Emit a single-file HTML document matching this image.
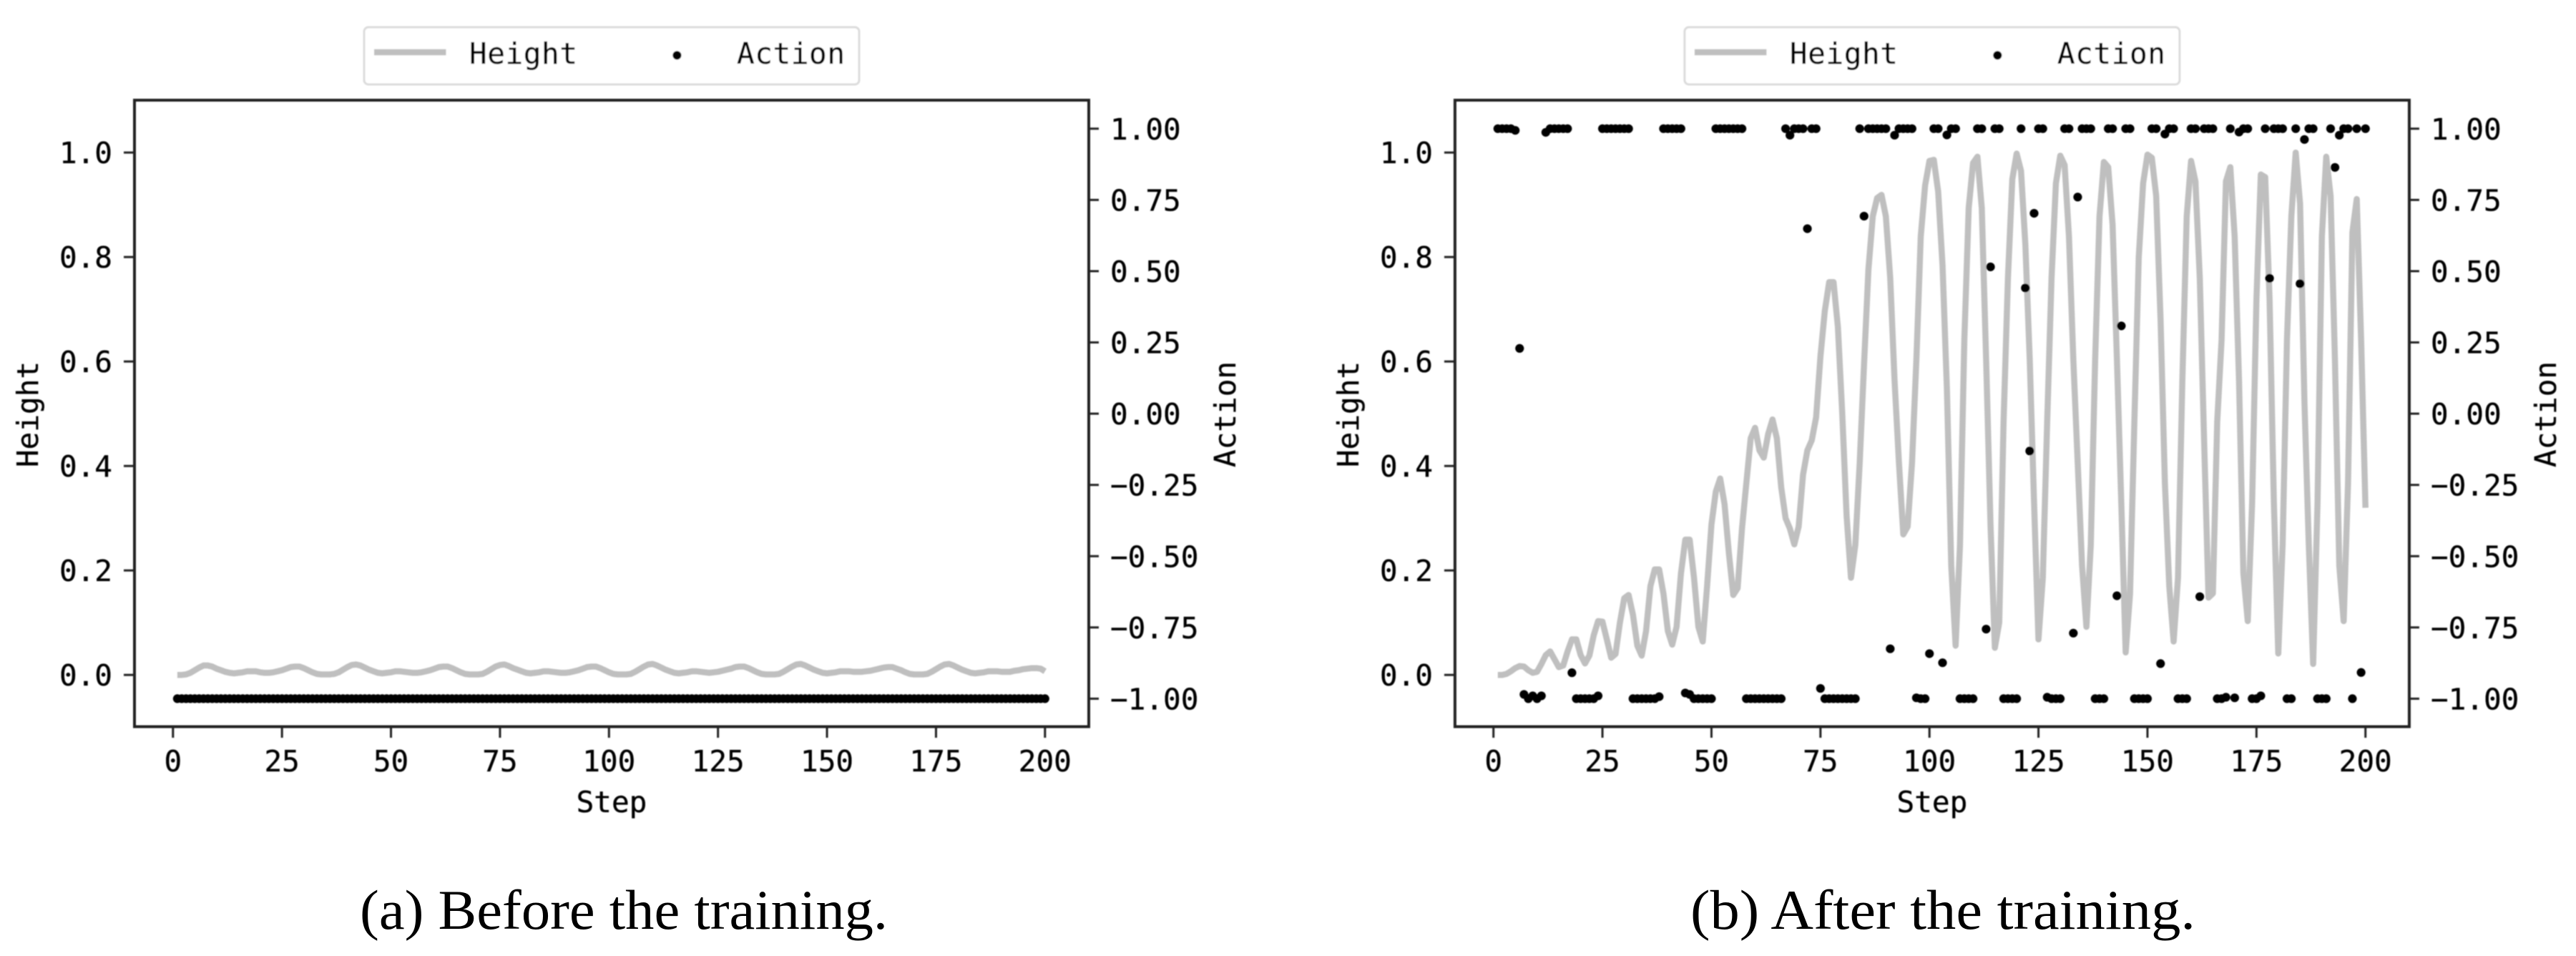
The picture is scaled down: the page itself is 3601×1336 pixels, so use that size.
<!DOCTYPE html>
<html lang="en">
<head>
<meta charset="utf-8">
<title>Height and Action before and after training</title>
<style>
html,body{margin:0;padding:0;background:#fff;}
svg{display:block;}
.mono{font-family:"DejaVu Sans Mono","Liberation Mono",monospace;font-size:41px;fill:#000;stroke:#000;stroke-width:0.35px;}
.cap{font-family:"Liberation Serif",serif;font-size:78px;fill:#000;}
</style>
</head>
<body>
<svg id="figure" xmlns="http://www.w3.org/2000/svg" width="3601" height="1336" viewBox="0 0 3601 1336">
  <defs>
    <filter id="soft" x="-2%" y="-2%" width="104%" height="104%"><feGaussianBlur stdDeviation="0.7"/></filter>
  </defs>
  <rect x="0" y="0" width="3601" height="1336" fill="#fff"/>
  <g id="panel-a" filter="url(#soft)"></g>
  <g id="panel-b" filter="url(#soft)"></g>
  <text class="cap" x="503" y="1298" textLength="738" lengthAdjust="spacingAndGlyphs">(a) Before the training.</text>
  <text class="cap" x="2363" y="1298" textLength="706" lengthAdjust="spacingAndGlyphs">(b) After the training.</text>
</svg>
<script>
const xTicks = [0, 25, 50, 75, 100, 125, 150, 175, 200];
const xTickLabels = ['0', '25', '50', '75', '100', '125', '150', '175', '200'];
const heightTicks = [0, 0.2, 0.4, 0.6, 0.8, 1.0];
const heightTickLabels = ['0.0', '0.2', '0.4', '0.6', '0.8', '1.0'];
const actionTicks = [-1, -0.75, -0.5, -0.25, 0, 0.25, 0.5, 0.75, 1];
const actionTickLabels = ['\u22121.00', '\u22120.75', '\u22120.50', '\u22120.25', '0.00', '0.25', '0.50', '0.75', '1.00'];

const beforeHeight = [
  0,0,.001,.004,.009,.014,.018,.018,.016,.012,.009,.006,.004,.003,.004,.005,.007,.007,.007,.005,.004,.004,.005,.007,.009,.012,.015,.016,.016,.013,.009,.005,.002,.001,
  .001,.001,.002,.005,.010,.015,.019,.020,.018,.014,.010,.007,.004,.003,.004,.005,.007,.007,.006,.005,.004,.004,.005,.007,.009,.012,.015,.016,.016,.013,.009,.005,.002,.001,
  .001,.001,.002,.006,.011,.016,.019,.020,.017,.013,.010,.007,.004,.003,.004,.005,.007,.007,.006,.005,.004,.004,.005,.007,.009,.012,.015,.016,.016,.013,.009,.005,.002,.001,
  .001,.001,.002,.006,.011,.016,.020,.021,.018,.014,.010,.007,.004,.003,.004,.005,.007,.007,.006,.005,.004,.005,.006,.008,.010,.012,.015,.016,.016,.013,.009,.005,.002,.001,
  .001,.001,.002,.006,.011,.016,.020,.021,.018,.014,.010,.007,.004,.003,.004,.005,.007,.007,.007,.006,.006,.006,.007,.008,.010,.012,.014,.015,.015,.012,.009,.005,.002,.001,
  .001,.001,.002,.006,.011,.016,.020,.021,.018,.014,.010,.007,.004,.003,.004,.005,.007,.007,.007,.006,.006,.006,.008,.009,.011,.012,.013,.013,.012,.007
];
const beforeAction = [
  -1,-1,-1,-1,-1,-1,-1,-1,-1,-1,-1,-1,-1,-1,-1,-1,-1,-1,-1,-1,-1,-1,-1,-1,-1,-1,-1,-1,-1,-1,-1,-1,-1,-1,-1,-1,-1,-1,-1,-1,
  -1,-1,-1,-1,-1,-1,-1,-1,-1,-1,-1,-1,-1,-1,-1,-1,-1,-1,-1,-1,-1,-1,-1,-1,-1,-1,-1,-1,-1,-1,-1,-1,-1,-1,-1,-1,-1,-1,-1,-1,
  -1,-1,-1,-1,-1,-1,-1,-1,-1,-1,-1,-1,-1,-1,-1,-1,-1,-1,-1,-1,-1,-1,-1,-1,-1,-1,-1,-1,-1,-1,-1,-1,-1,-1,-1,-1,-1,-1,-1,-1,
  -1,-1,-1,-1,-1,-1,-1,-1,-1,-1,-1,-1,-1,-1,-1,-1,-1,-1,-1,-1,-1,-1,-1,-1,-1,-1,-1,-1,-1,-1,-1,-1,-1,-1,-1,-1,-1,-1,-1,-1,
  -1,-1,-1,-1,-1,-1,-1,-1,-1,-1,-1,-1,-1,-1,-1,-1,-1,-1,-1,-1,-1,-1,-1,-1,-1,-1,-1,-1,-1,-1,-1,-1,-1,-1,-1,-1,-1,-1,-1,-1
];
const afterHeight = [
  0,0,.002,.007,.013,.017,.016,.009,.004,.006,
  .021,.038,.045,.03,.015,.018,.045,.068,.068,.038,
  .022,.037,.076,.103,.102,.068,.033,.04,.1,.147,
  .153,.115,.056,.037,.084,.17,.202,.202,.155,.084,
  .058,.092,.194,.259,.259,.186,.092,.064,.17,.288,
  .351,.376,.327,.233,.153,.166,.28,.367,.453,.473,
  .43,.416,.461,.489,.453,.359,.3,.28,.25,.284,
  .383,.43,.449,.493,.61,.697,.752,.752,.666,.5,
  .304,.186,.249,.406,.595,.776,.878,.913,.919,.878,
  .76,.563,.406,.269,.284,.406,.603,.839,.937,.984,
  .986,.925,.784,.548,.209,.056,.249,.642,.894,.98,
  .992,.894,.603,.288,.052,.1,.485,.76,.949,.998,
  .965,.823,.603,.328,.068,.186,.485,.76,.941,.994,
  .976,.839,.603,.406,.209,.092,.249,.603,.878,.982,
  .972,.862,.603,.328,.043,.155,.485,.799,.941,.996,
  .99,.917,.681,.367,.17,.064,.186,.563,.878,.984,
  .945,.76,.446,.148,.156,.485,.642,.945,.972,.839,
  .563,.194,.103,.328,.721,.958,.953,.721,.328,.041,
  .249,.642,.878,1,.902,.524,.249,.021,.328,.839,
  .992,.917,.603,.209,.103,.367,.847,.911,.642,.32
];
const afterAction = [
  1,1,1,1,.994,.229,-.985,-1,-.99,-1,
  -.99,.987,1,1,1,1,1,-.909,-1,-1,
  -1,-1,-1,-.99,1,1,1,1,1,1,
  1,-1,-1,-1,-1,-1,-1,-.993,1,1,
  1,1,1,-.98,-.985,-1,-1,-1,-1,-1,
  1,1,1,1,1,1,1,-1,-1,-1,
  -1,-1,-1,-1,-1,-1,1,.977,1,1,
  1,.649,1,1,-.964,-1,-1,-1,-1,-1,
  -1,-1,-1,1,.693,1,1,1,1,1,
  -.825,.977,1,1,1,1,-.997,-1,-1,-.842,
  1,1,-.874,.978,1,1,-1,-1,-1,-1,
  1,1,-.756,.515,1,1,-1,-1,-1,-1,
  1,.441,-.131,.703,1,1,-.995,-1,-1,-1,
  1,1,-.77,.76,1,1,1,-1,-1,-1,
  1,1,-.639,.308,1,1,-1,-1,-1,-1,
  1,1,-.877,.981,1,1,-1,-1,-1,1,
  1,-.642,1,1,1,-1,-1,-.995,1,-.997,
  .988,1,1,-1,-1,-.99,1,.475,1,1,
  1,-1,-1,1,.456,.962,1,1,-1,-1,
  -1,1,.864,.977,1,1,-1,1,-.908,1
];

const NS = 'http://www.w3.org/2000/svg';
const FRAME_TOP = 140, FRAME_BOTTOM = 1015.5;
const LINE_GREY = '#bfbfbf', AXIS_INK = '#222';

function make(parent, tag, attrs, text) {
  const el = document.createElementNS(NS, tag);
  for (const k in attrs) el.setAttribute(k, attrs[k]);
  if (text !== undefined) el.textContent = text;
  parent.appendChild(el);
  return el;
}

function drawPanel(root, dx, heights, actions) {
  const xScale = s => 241.8 + dx + 6.095 * s;
  const heightScale = h => 943.2 - 730 * h;
  const actionScale = a => 578.1 - 398.3 * a;
  const left = 188 + dx, right = 1522 + dx;

  const path = heights.map((h, i) => (i ? 'L' : 'M') + xScale(i + 1).toFixed(2) + ' ' + heightScale(h).toFixed(2)).join(' ');
  const line = make(root, 'path', {d: path, fill: 'none', stroke: LINE_GREY, 'stroke-width': 8.5, 'stroke-linejoin': 'round'});
  
  

  actions.forEach((a, i) => {
    const dot = make(root, 'circle', {cx: xScale(i + 1).toFixed(2), cy: actionScale(a).toFixed(2), r: 6.1, fill: '#000'});
    
    
  });

  const frame = make(root, 'rect', {x: left, y: FRAME_TOP, width: right - left, height: FRAME_BOTTOM - FRAME_TOP, fill: 'none', stroke: AXIS_INK, 'stroke-width': 4});
  
  

  xTicks.forEach((t, i) => {
    const x = xScale(t);
    const tick = make(root, 'line', {x1: x, x2: x, y1: FRAME_BOTTOM, y2: 1031, stroke: AXIS_INK, 'stroke-width': 3});
    
    
    const label = make(root, 'text', {class: 'mono', x: x, y: 1078, 'text-anchor': 'middle'}, xTickLabels[i]);
    
    
  });

  heightTicks.forEach((t, i) => {
    const y = heightScale(t);
    const tick = make(root, 'line', {x1: 173 + dx, x2: left, y1: y, y2: y, stroke: AXIS_INK, 'stroke-width': 3});
    
    
    const label = make(root, 'text', {class: 'mono', x: 157 + dx, y: y + 15, 'text-anchor': 'end'}, heightTickLabels[i]);
    
    
  });

  actionTicks.forEach((t, i) => {
    const y = actionScale(t);
    const tick = make(root, 'line', {x1: right, x2: 1536 + dx, y1: y, y2: y, stroke: AXIS_INK, 'stroke-width': 3});
    
    
    const label = make(root, 'text', {class: 'mono', x: 1552 + dx, y: y + 15}, actionTickLabels[i]);
    
    
  });

  const xTitle = make(root, 'text', {class: 'mono', x: 855 + dx, y: 1135, 'text-anchor': 'middle'}, 'Step');
  
  

  const yTitleLeft = make(root, 'text', {class: 'mono', transform: 'translate(' + (53 + dx) + ' 579) rotate(-90)', 'text-anchor': 'middle'}, 'Height');
  
  

  const yTitleRight = make(root, 'text', {class: 'mono', transform: 'translate(' + (1727 + dx) + ' 579) rotate(-90)', 'text-anchor': 'middle'}, 'Action');
  
  

  const legend = make(root, 'g', {});
  
  
  const box = make(legend, 'rect', {x: 509 + dx, y: 38, width: 692, height: 80, rx: 6, ry: 6, fill: '#fff', stroke: '#dcdcdc', 'stroke-width': 3});
  
  
  const swatch = make(legend, 'line', {x1: 523 + dx, x2: 623.5 + dx, y1: 73, y2: 73, stroke: LINE_GREY, 'stroke-width': 8.5});
  
  
  const hText = make(legend, 'text', {class: 'mono', x: 656 + dx, y: 89, textLength: 151}, 'Height');
  
  
  const marker = make(legend, 'circle', {cx: 946.4 + dx, cy: 77.3, r: 6.1, fill: '#000'});
  
  
  const aText = make(legend, 'text', {class: 'mono', x: 1030 + dx, y: 89, textLength: 151}, 'Action');
  
  
}

drawPanel(document.getElementById('panel-a'), 0, beforeHeight, beforeAction);
drawPanel(document.getElementById('panel-b'), 1845.9, afterHeight, afterAction);
</script>
</body>
</html>
